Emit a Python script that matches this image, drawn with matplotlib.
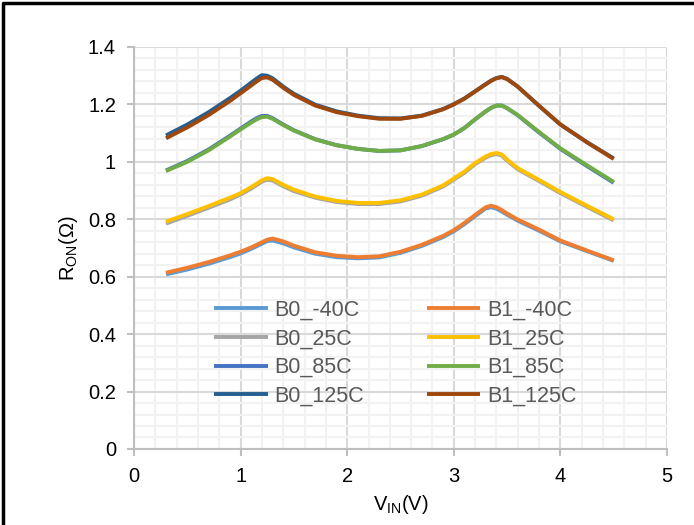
import matplotlib
matplotlib.use("Agg")
import matplotlib.pyplot as plt
from matplotlib.lines import Line2D
from matplotlib.ticker import MultipleLocator, FuncFormatter

plt.rcParams['font.family'] = ['Liberation Sans', 'DejaVu Sans']
plt.rcParams['mathtext.fontset'] = 'custom'
plt.rcParams['mathtext.rm'] = 'Liberation Sans'
plt.rcParams['mathtext.it'] = 'Liberation Sans'

# input voltage (V)
vin = [0.3, 0.5, 0.7, 0.9, 1.0, 1.1, 1.15, 1.2, 1.25, 1.3, 1.4, 1.5, 1.7, 1.9,
       2.1, 2.3, 2.5, 2.7, 2.9, 3.0, 3.1, 3.2, 3.3, 3.35, 3.4, 3.45, 3.5, 3.6,
       3.8, 4.0, 4.25, 4.5]

# on-resistance (ohm) per series
b0_m40 = [0.608, 0.625, 0.645, 0.668, 0.681, 0.697, 0.706, 0.715, 0.724, 0.726,
          0.716, 0.702, 0.680, 0.668, 0.664, 0.667, 0.683, 0.707, 0.738, 0.758,
          0.783, 0.811, 0.838, 0.842, 0.837, 0.827, 0.816, 0.795, 0.760, 0.723,
          0.689, 0.655]
b1_m40 = [0.614, 0.631, 0.651, 0.674, 0.687, 0.702, 0.711, 0.720, 0.729, 0.733,
          0.723, 0.708, 0.685, 0.673, 0.668, 0.671, 0.687, 0.711, 0.742, 0.762,
          0.787, 0.815, 0.842, 0.847, 0.842, 0.832, 0.820, 0.799, 0.764, 0.726,
          0.691, 0.657]
b0_25 = [0.785, 0.812, 0.840, 0.869, 0.886, 0.907, 0.919, 0.931, 0.938, 0.935,
         0.915, 0.898, 0.875, 0.860, 0.853, 0.853, 0.862, 0.882, 0.914, 0.938,
         0.962, 0.992, 1.015, 1.023, 1.027, 1.022, 1.004, 0.974, 0.933, 0.891,
         0.843, 0.796]
b1_25 = [0.792, 0.818, 0.846, 0.875, 0.891, 0.912, 0.924, 0.936, 0.943, 0.940,
         0.920, 0.903, 0.879, 0.864, 0.857, 0.857, 0.866, 0.886, 0.918, 0.942,
         0.966, 0.996, 1.019, 1.027, 1.031, 1.026, 1.008, 0.978, 0.937, 0.895,
         0.847, 0.800]
b0_85 = [0.970, 1.003, 1.043, 1.091, 1.116, 1.141, 1.152, 1.160, 1.160, 1.152,
         1.130, 1.110, 1.079, 1.058, 1.045, 1.038, 1.040, 1.055, 1.079, 1.095,
         1.118, 1.148, 1.176, 1.188, 1.196, 1.196, 1.187, 1.162, 1.102, 1.045,
         0.985, 0.927]
b1_85 = [0.968, 1.000, 1.040, 1.088, 1.113, 1.137, 1.148, 1.156, 1.157, 1.150,
         1.128, 1.109, 1.078, 1.058, 1.045, 1.038, 1.040, 1.055, 1.079, 1.095,
         1.118, 1.148, 1.176, 1.188, 1.196, 1.196, 1.187, 1.163, 1.104, 1.047,
         0.988, 0.930]
b0_125 = [1.092, 1.130, 1.173, 1.222, 1.248, 1.276, 1.290, 1.302, 1.300, 1.291,
          1.262, 1.237, 1.199, 1.176, 1.161, 1.152, 1.151, 1.161, 1.184, 1.201,
          1.221, 1.246, 1.271, 1.283, 1.292, 1.296, 1.289, 1.262, 1.195, 1.130,
          1.068, 1.012]
b1_125 = [1.082, 1.120, 1.163, 1.212, 1.239, 1.266, 1.280, 1.292, 1.294, 1.286,
          1.258, 1.233, 1.196, 1.173, 1.159, 1.150, 1.150, 1.160, 1.183, 1.200,
          1.220, 1.245, 1.270, 1.282, 1.291, 1.295, 1.288, 1.262, 1.195, 1.130,
          1.068, 1.010]

labels = ['B0_-40C', 'B1_-40C', 'B0_25C', 'B1_25C',
          'B0_85C', 'B1_85C', 'B0_125C', 'B1_125C']
series = [b0_m40, b1_m40, b0_25, b1_25, b0_85, b1_85, b0_125, b1_125]
colors = ['#5B9BD5', '#ED7D31', '#A5A5A5', '#FFC000',
          '#4472C4', '#70AD47', '#255E91', '#9E480E']

fig = plt.figure(figsize=(6.94, 5.25), dpi=100)
ax = fig.add_axes([0.1931, 0.1448, 0.768, 0.7657])

lines = []
for y, lab, c in zip(series, labels, colors):
    ln, = ax.plot(vin, y, color=c, lw=2.8, label=lab, solid_capstyle='butt',
                  zorder=3)
    lines.append(ln)

ax.set_xlim(0, 5)
ax.set_ylim(0, 1.4)
ax.xaxis.set_major_locator(MultipleLocator(1))
ax.xaxis.set_minor_locator(MultipleLocator(0.2))
ax.yaxis.set_major_locator(MultipleLocator(0.2))
ax.yaxis.set_minor_locator(MultipleLocator(0.04))
ax.yaxis.set_major_formatter(FuncFormatter(lambda v, p: f'{round(v, 2):g}'))
ax.xaxis.set_major_formatter(FuncFormatter(lambda v, p: f'{round(v, 2):g}'))

ax.grid(which='major', color='#d9d9d9', lw=1.5, zorder=1)
ax.grid(which='minor', color='#f2f2f2', lw=1.5, zorder=0)
ax.set_axisbelow(True)

for s in ['top', 'right']:
    ax.spines[s].set_visible(False)
for s in ['left', 'bottom']:
    ax.spines[s].set_color('#bfbfbf')
    ax.spines[s].set_linewidth(1.5)
ax.tick_params(which='major', length=5, width=1.5, color='#bfbfbf',
               labelsize=14.5, labelcolor='#000000', pad=8)
ax.tick_params(which='minor', length=0)

ax.set_xlabel(r'V$_{\mathrm{IN}}$(V)', fontsize=14.5, labelpad=5)
ax.set_ylabel(r'R$_{\mathrm{ON}}$($\Omega$)', fontsize=14.5, labelpad=6)

# legend: two columns, B0 series left, B1 series right
order = [0, 2, 4, 6, 1, 3, 5, 7]
leg = ax.legend([lines[i] for i in order], [labels[i] for i in order],
                ncol=2, loc='center', bbox_to_anchor=(0.49, 0.238),
                frameon=False, fontsize=15.5, handlelength=2.5,
                handletextpad=0.3, columnspacing=2.9, labelspacing=0.36)
for t in leg.get_texts():
    t.set_color('#595959')

# black frame on the left and top edges
fig.add_artist(Line2D([0.004, 0.004, 1.0], [0.0, 0.994, 0.994],
                      transform=fig.transFigure, color='black', lw=2.5))

fig.savefig('out.png', dpi=100)
